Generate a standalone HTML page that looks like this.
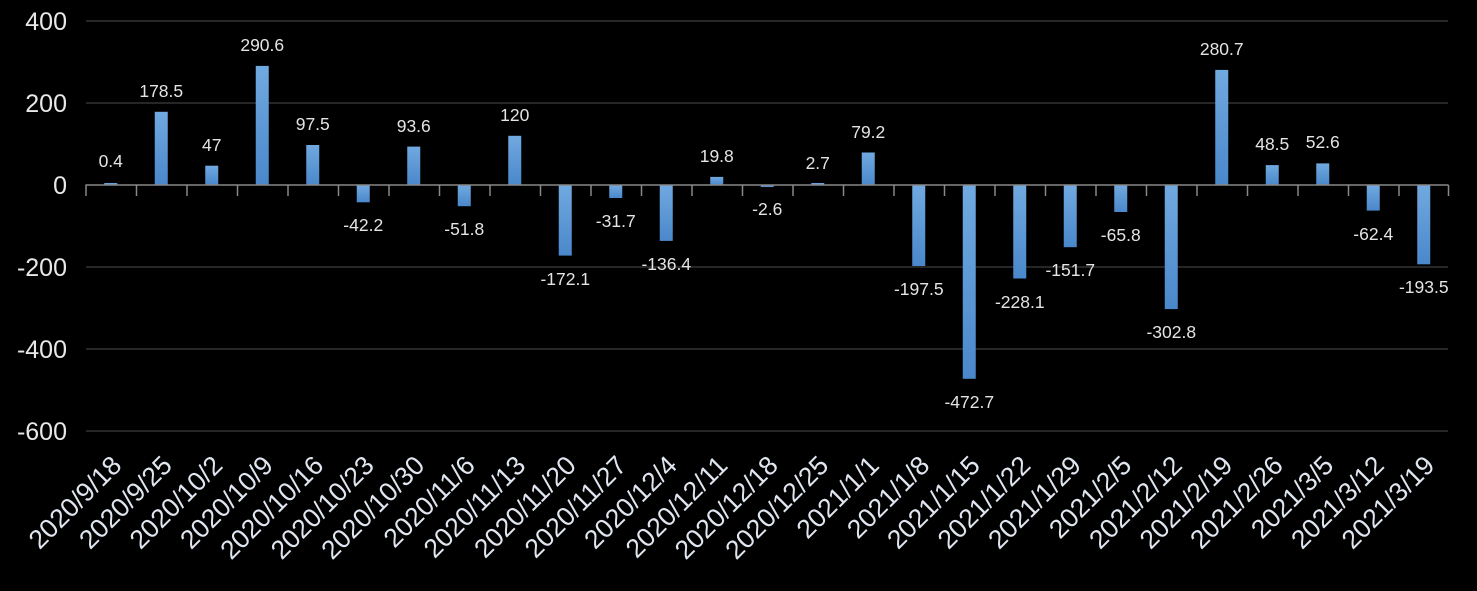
<!DOCTYPE html>
<html><head><meta charset="utf-8"><style>
html,body{margin:0;padding:0;background:#000;}
svg{display:block;font-family:"Liberation Sans","DejaVu Sans",sans-serif;}
</style></head><body>
<svg width="1477" height="591" viewBox="0 0 1477 591" xmlns="http://www.w3.org/2000/svg">
<defs><linearGradient id="g" x1="0" y1="0" x2="0" y2="1"><stop offset="0" stop-color="#71a9e0"/><stop offset="1" stop-color="#4a88cb"/></linearGradient></defs>
<rect width="1477" height="591" fill="#000"/>
<g stroke="#262626" stroke-width="2">
<line x1="86" y1="21" x2="1448" y2="21"/><line x1="86" y1="103" x2="1448" y2="103"/>
<line x1="86" y1="267" x2="1448" y2="267"/><line x1="86" y1="349" x2="1448" y2="349"/><line x1="86" y1="431" x2="1448" y2="431"/>
</g>
<g fill="#e8e8e8" font-size="25" text-anchor="end">
<text x="67" y="30">400</text><text x="67" y="112">200</text><text x="67" y="194">0</text>
<text x="67" y="276">-200</text><text x="67" y="358">-400</text><text x="67" y="440">-600</text>
</g>
<g fill="url(#g)">
<rect x="104.25" y="183" width="13" height="2"/>
<rect x="154.75" y="111.8" width="13" height="73.2"/>
<rect x="205.25" y="165.7" width="13" height="19.3"/>
<rect x="255.75" y="65.9" width="13" height="119.1"/>
<rect x="306.25" y="145" width="13" height="40"/>
<rect x="356.75" y="185" width="13" height="17.3"/>
<rect x="407.25" y="146.6" width="13" height="38.4"/>
<rect x="457.75" y="185" width="13" height="21.2"/>
<rect x="508.25" y="135.8" width="13" height="49.2"/>
<rect x="558.75" y="185" width="13" height="70.6"/>
<rect x="609.25" y="185" width="13" height="13"/>
<rect x="659.75" y="185" width="13" height="55.9"/>
<rect x="710.25" y="176.9" width="13" height="8.1"/>
<rect x="760.75" y="185" width="13" height="2"/>
<rect x="811.25" y="183" width="13" height="2"/>
<rect x="861.75" y="152.5" width="13" height="32.5"/>
<rect x="912.25" y="185" width="13" height="81"/>
<rect x="962.75" y="185" width="13" height="193.8"/>
<rect x="1013.25" y="185" width="13" height="93.5"/>
<rect x="1063.75" y="185" width="13" height="62.2"/>
<rect x="1114.25" y="185" width="13" height="27"/>
<rect x="1164.75" y="185" width="13" height="124.1"/>
<rect x="1215.25" y="69.9" width="13" height="115.1"/>
<rect x="1265.75" y="165.1" width="13" height="19.9"/>
<rect x="1316.25" y="163.4" width="13" height="21.6"/>
<rect x="1366.75" y="185" width="13" height="25.6"/>
<rect x="1417.25" y="185" width="13" height="79.3"/>
</g>
<g stroke="#888" stroke-width="1.5">
<line x1="85.5" y1="185" x2="1448.5" y2="185"/>
<path d="M86,185v11M136.5,185v11M187,185v11M237.5,185v11M288,185v11M338.5,185v11M389,185v11M439.5,185v11M490,185v11M540.5,185v11M591,185v11M641.5,185v11M692,185v11M742.5,185v11M793,185v11M843.5,185v11M894,185v11M944.5,185v11M995,185v11M1045.5,185v11M1096,185v11M1146.5,185v11M1197,185v11M1247.5,185v11M1298,185v11M1348.5,185v11M1399,185v11M1448.5,185v11"/>
</g>
<g fill="#e4e4e4" font-size="17.5" text-anchor="middle">
<text x="110.75" y="167">0.4</text>
<text x="161.25" y="97">178.5</text>
<text x="211.75" y="151">47</text>
<text x="262.25" y="51">290.6</text>
<text x="312.75" y="130">97.5</text>
<text x="363.25" y="231">-42.2</text>
<text x="413.75" y="132">93.6</text>
<text x="464.25" y="235">-51.8</text>
<text x="514.75" y="121">120</text>
<text x="565.25" y="285">-172.1</text>
<text x="615.75" y="227">-31.7</text>
<text x="666.25" y="270">-136.4</text>
<text x="716.75" y="162">19.8</text>
<text x="767.25" y="215">-2.6</text>
<text x="817.75" y="169">2.7</text>
<text x="868.25" y="138">79.2</text>
<text x="918.75" y="295">-197.5</text>
<text x="969.25" y="408">-472.7</text>
<text x="1019.75" y="308">-228.1</text>
<text x="1070.25" y="276">-151.7</text>
<text x="1120.75" y="241">-65.8</text>
<text x="1171.25" y="338">-302.8</text>
<text x="1221.75" y="55">280.7</text>
<text x="1272.25" y="150">48.5</text>
<text x="1322.75" y="148">52.6</text>
<text x="1373.25" y="240">-62.4</text>
<text x="1423.75" y="293">-193.5</text>
</g>
<g fill="#e0e6f0" font-size="26.5" text-anchor="end">
<text transform="translate(123,467) rotate(-45)">2020/9/18</text>
<text transform="translate(173.5,467) rotate(-45)">2020/9/25</text>
<text transform="translate(224,467) rotate(-45)">2020/10/2</text>
<text transform="translate(274.5,467) rotate(-45)">2020/10/9</text>
<text transform="translate(325,467) rotate(-45)">2020/10/16</text>
<text transform="translate(375.5,467) rotate(-45)">2020/10/23</text>
<text transform="translate(426,467) rotate(-45)">2020/10/30</text>
<text transform="translate(476.5,467) rotate(-45)">2020/11/6</text>
<text transform="translate(527,467) rotate(-45)">2020/11/13</text>
<text transform="translate(577.5,467) rotate(-45)">2020/11/20</text>
<text transform="translate(628,467) rotate(-45)">2020/11/27</text>
<text transform="translate(678.5,467) rotate(-45)">2020/12/4</text>
<text transform="translate(729,467) rotate(-45)">2020/12/11</text>
<text transform="translate(779.5,467) rotate(-45)">2020/12/18</text>
<text transform="translate(830,467) rotate(-45)">2020/12/25</text>
<text transform="translate(880.5,467) rotate(-45)">2021/1/1</text>
<text transform="translate(931,467) rotate(-45)">2021/1/8</text>
<text transform="translate(981.5,467) rotate(-45)">2021/1/15</text>
<text transform="translate(1032,467) rotate(-45)">2021/1/22</text>
<text transform="translate(1082.5,467) rotate(-45)">2021/1/29</text>
<text transform="translate(1133,467) rotate(-45)">2021/2/5</text>
<text transform="translate(1183.5,467) rotate(-45)">2021/2/12</text>
<text transform="translate(1234,467) rotate(-45)">2021/2/19</text>
<text transform="translate(1284.5,467) rotate(-45)">2021/2/26</text>
<text transform="translate(1335,467) rotate(-45)">2021/3/5</text>
<text transform="translate(1385.5,467) rotate(-45)">2021/3/12</text>
<text transform="translate(1436,467) rotate(-45)">2021/3/19</text>
</g>
</svg>
</body></html>
